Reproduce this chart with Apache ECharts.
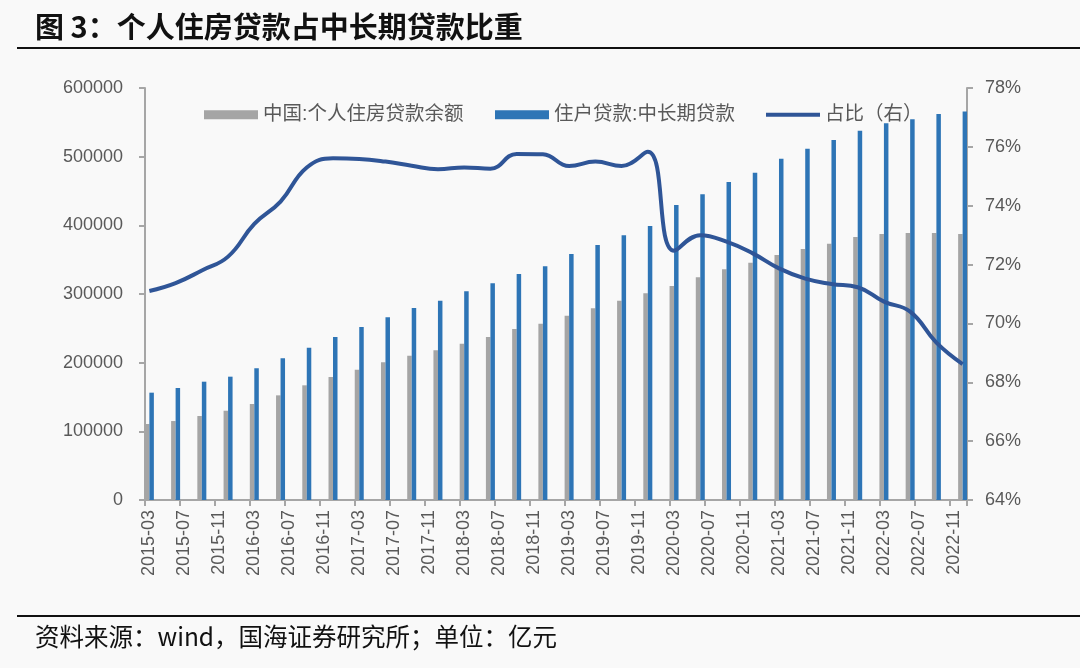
<!DOCTYPE html>
<html>
<head>
<meta charset="utf-8">
<script src="https://cdn.jsdelivr.net/npm/echarts@6/dist/echarts.min.js"></script>
<style>
html,body{margin:0;padding:0;background:#f9f9f9;}
#c{width:1080px;height:668px;}
</style>
</head>
<body>
<div id="c"></div>
<script>
// Monthly category axis (labels shown every 4 months)
const months = [
'2015-03','2015-04','2015-05','2015-06','2015-07','2015-08','2015-09','2015-10','2015-11','2015-12',
'2016-01','2016-02','2016-03','2016-04','2016-05','2016-06','2016-07','2016-08','2016-09','2016-10','2016-11','2016-12',
'2017-01','2017-02','2017-03','2017-04','2017-05','2017-06','2017-07','2017-08','2017-09','2017-10','2017-11','2017-12',
'2018-01','2018-02','2018-03','2018-04','2018-05','2018-06','2018-07','2018-08','2018-09','2018-10','2018-11','2018-12',
'2019-01','2019-02','2019-03','2019-04','2019-05','2019-06','2019-07','2019-08','2019-09','2019-10','2019-11','2019-12',
'2020-01','2020-02','2020-03','2020-04','2020-05','2020-06','2020-07','2020-08','2020-09','2020-10','2020-11','2020-12',
'2021-01','2021-02','2021-03','2021-04','2021-05','2021-06','2021-07','2021-08','2021-09','2021-10','2021-11','2021-12',
'2022-01','2022-02','2022-03','2022-04','2022-05','2022-06','2022-07','2022-08','2022-09','2022-10','2022-11','2022-12'
];
// Quarterly observation dates
const quarters = [
'2015-03','2015-06','2015-09','2015-12','2016-03','2016-06','2016-09','2016-12',
'2017-03','2017-06','2017-09','2017-12','2018-03','2018-06','2018-09','2018-12',
'2019-03','2019-06','2019-09','2019-12','2020-03','2020-06','2020-09','2020-12',
'2021-03','2021-06','2021-09','2021-12','2022-03','2022-06','2022-09','2022-12'
];
// 中国:个人住房贷款余额 (亿元)
const housingLoans = [
110700,115000,122300,130000,139800,152400,167000,179100,
189800,200500,210200,218000,227600,237400,249000,256800,
268400,279100,290300,301000,311600,324300,336000,345600,
356800,365500,373300,383000,387400,388800,388800,387400
];
// 住户贷款:中长期贷款 (亿元)
const householdMLLoans = [
156300,163100,172300,179600,191700,206300,221800,237400,
251900,266000,279600,290300,303900,315600,329100,340500,
358200,371300,385500,399000,429600,445200,463100,476700,
497000,511600,524300,537800,548500,554400,562200,565600
];
// 占比 (%)
const ratio = [
71.10,71.37,71.80,72.27,73.38,74.14,75.30,75.61,
75.59,75.50,75.36,75.24,75.30,75.26,75.76,75.75,
75.35,75.50,75.35,75.83,72.47,73.00,72.78,72.38,
71.87,71.52,71.34,71.23,70.74,70.40,69.35,68.62
];
const leftTicks = {min:0, max:600000, interval:100000};
const rightTicks = {min:64, max:78, interval:2};
const seriesNames = ['中国:个人住房贷款余额','住户贷款:中长期贷款','占比（右）'];

const pair = arr => quarters.map((q,i)=>[q, arr[i]]);

const chart = echarts.init(document.getElementById('c'), null, {renderer:'canvas'});
const numFont = "'Liberation Sans', Arial, sans-serif";
const cjkFont = "'Liberation Sans', 'Noto Sans CJK SC', sans-serif";
const legendText = {fontSize:19.5, color:'#595959', fontFamily:cjkFont};
chart.setOption({
  backgroundColor:'#f9f9f9',
  animation:false,
  grid:{left:145, right:113, top:88, bottom:168, containLabel:false},
  legend:[
    {left:204, top:105, padding:0, itemWidth:54, itemHeight:9, icon:'rect', textStyle:legendText, data:[seriesNames[0]]},
    {left:495, top:105, padding:0, itemWidth:54, itemHeight:9, icon:'rect', textStyle:legendText, data:[seriesNames[1]]},
    {left:766, top:105, padding:0, itemWidth:54, itemHeight:4, icon:'rect', textStyle:legendText, data:[seriesNames[2]]}
  ],
  xAxis:{
    type:'category', data:months, boundaryGap:true,
    axisLine:{lineStyle:{color:'#a6a6a6', width:2}},
    axisTick:{show:true, interval:3, length:6, lineStyle:{color:'#a6a6a6', width:2}},
    axisLabel:{interval:3, rotate:90, margin:10, fontSize:18, color:'#595959', fontFamily:numFont}
  },
  yAxis:[
    {type:'value', min:leftTicks.min, max:leftTicks.max, interval:leftTicks.interval,
     splitLine:{show:false},
     axisLine:{show:true, lineStyle:{color:'#a6a6a6', width:2}},
     axisTick:{show:true, length:6, lineStyle:{color:'#a6a6a6', width:2}},
     axisLabel:{margin:22, fontSize:18, color:'#595959', fontFamily:numFont, formatter:v=>String(v)}},
    {type:'value', min:rightTicks.min, max:rightTicks.max, interval:rightTicks.interval,
     splitLine:{show:false},
     axisLine:{show:true, lineStyle:{color:'#a6a6a6', width:2}},
     axisTick:{show:true, length:6, lineStyle:{color:'#a6a6a6', width:2}},
     axisLabel:{margin:18, fontSize:18, color:'#595959', fontFamily:numFont, formatter:'{value}%'}}
  ],
  series:[
    {name:seriesNames[0], type:'bar', yAxisIndex:0, data:pair(housingLoans),
     barWidth:4.5, barGap:'0%', itemStyle:{color:'#a5a5a5'}},
    {name:seriesNames[1], type:'bar', yAxisIndex:0, data:pair(householdMLLoans),
     barWidth:4.5, barGap:'0%', itemStyle:{color:'#2e75b6'}},
    {name:seriesNames[2], type:'line', yAxisIndex:1, data:pair(ratio),
     smooth:0.45, symbol:'none', showSymbol:false,
     lineStyle:{color:'#2f5597', width:4}, itemStyle:{color:'#2f5597'}, z:5}
  ],
  graphic:[
    {type:'text', left:35, top:12, style:{text:'图 3：个人住房贷款占中长期贷款比重', fontSize:29, fontWeight:'bold', fill:'#111', fontFamily:"'Noto Sans CJK SC', sans-serif"}},
    {type:'rect', shape:{x:17, y:47, width:1063, height:2}, style:{fill:'#111'}},
    {type:'rect', shape:{x:17, y:615, width:1063, height:2}, style:{fill:'#111'}},
    {type:'text', left:35, top:624, style:{text:'资料来源：wind，国海证券研究所；单位：亿元', fontSize:24.5, fill:'#111', fontFamily:"'Noto Sans CJK SC', sans-serif"}}
  ]
});
</script>
</body>
</html>
